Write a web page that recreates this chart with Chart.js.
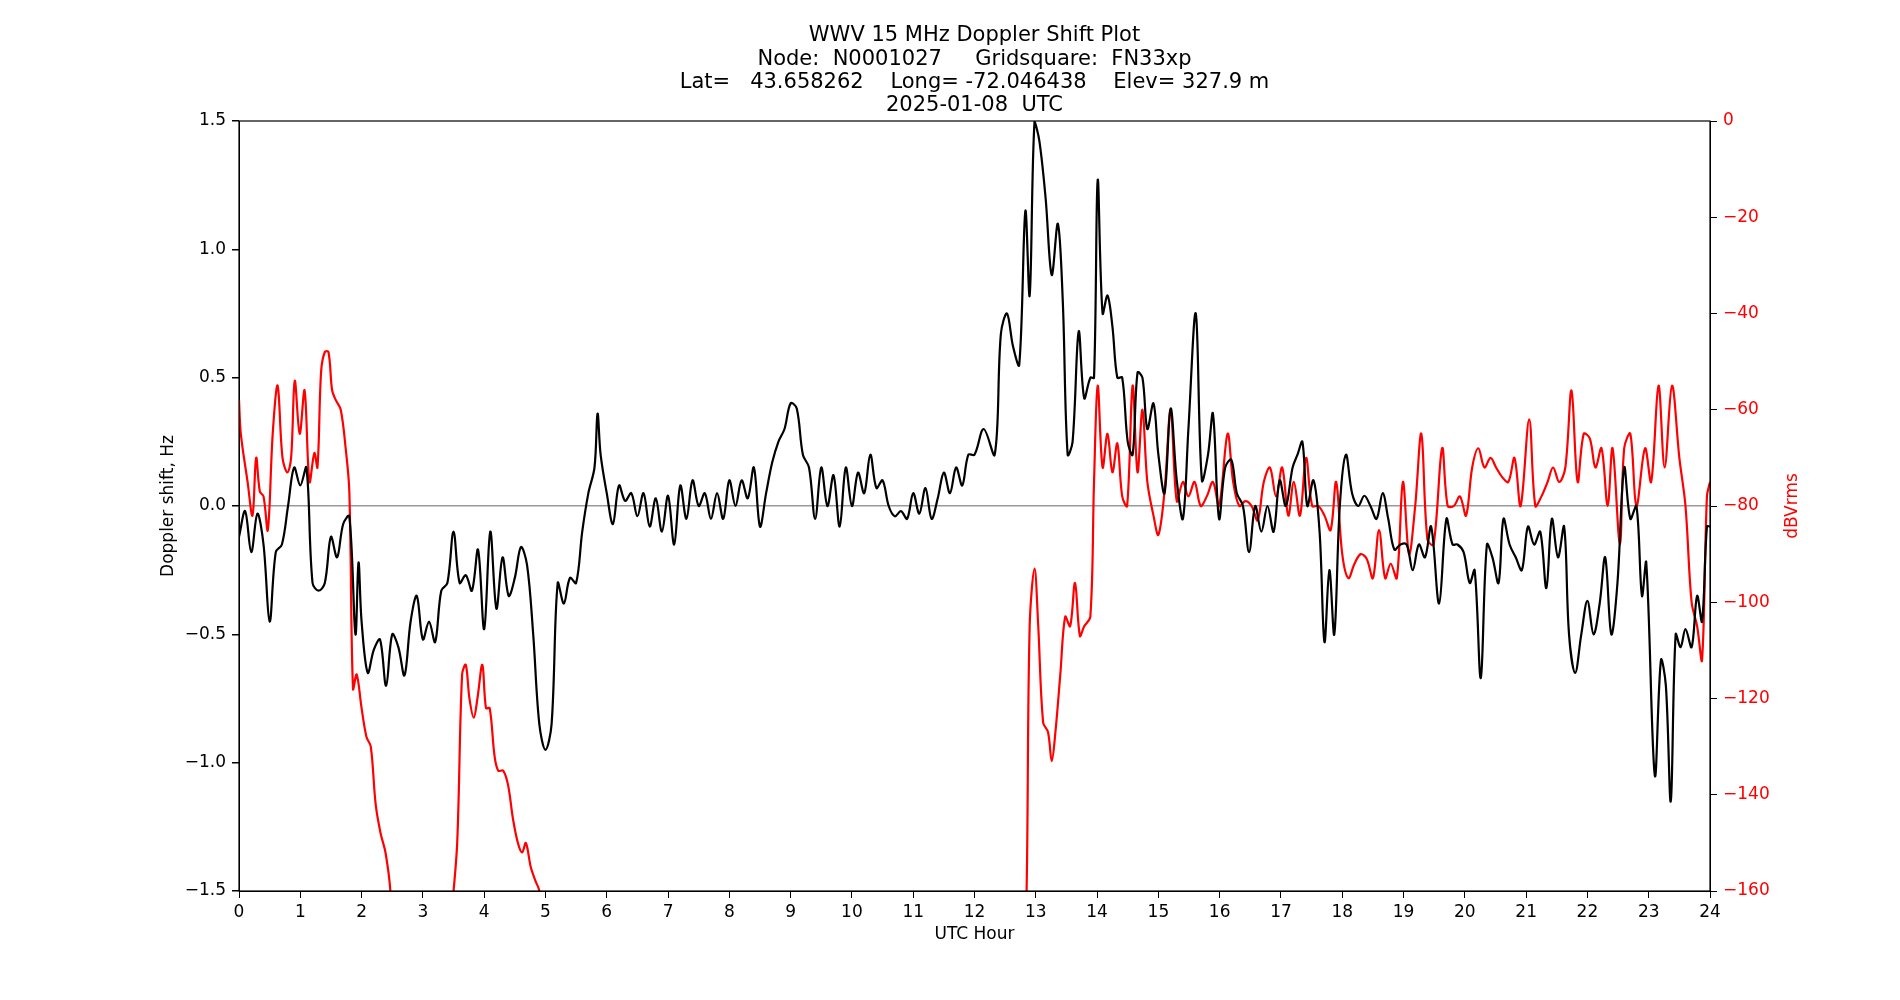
<!DOCTYPE html>
<html><head><meta charset="utf-8">
<script src="https://cdn.jsdelivr.net/npm/chart.js@4"></script>
<style>body{margin:0;background:#fff}canvas{display:block}</style>
</head><body>
<canvas id="c" width="1900" height="1000"></canvas>
<script>
const titleLines = ["WWV 15 MHz Doppler Shift Plot","Node:  N0001027     Gridsquare:  FN33xp","Lat=   43.658262    Long= -72.046438    Elev= 327.9 m","2025-01-08  UTC"];
const dopplerHours = [0,0.1,0.2,0.3,0.4,0.5,0.6,0.7,0.8,0.9,1.0,1.1,1.2,1.3,1.4,1.5,1.6,1.7,1.8,1.9,1.95,2.0,2.1,2.2,2.3,2.4,2.5,2.6,2.7,2.8,2.9,3.0,3.1,3.2,3.3,3.4,3.5,3.6,3.7,3.8,3.9,4.0,4.1,4.2,4.3,4.4,4.5,4.6,4.7,4.8,4.9,5.0,5.1,5.2,5.3,5.4,5.5,5.6,5.7,5.8,5.85,5.9,6.0,6.1,6.2,6.3,6.4,6.5,6.6,6.7,6.8,6.9,7.0,7.1,7.2,7.3,7.4,7.5,7.6,7.7,7.8,7.9,8.0,8.1,8.2,8.3,8.4,8.5,8.6,8.7,8.8,8.9,9.0,9.1,9.2,9.3,9.4,9.5,9.6,9.7,9.8,9.9,10.0,10.1,10.2,10.3,10.4,10.5,10.6,10.7,10.8,10.9,11.0,11.1,11.2,11.3,11.4,11.5,11.6,11.7,11.8,11.9,
12.0,12.15,12.33,12.43,12.53,12.63,12.73,12.83,12.9,12.98,13.06,13.16,13.26,13.36,13.44,13.52,13.6,13.7,13.79,13.89,13.95,14.01,14.09,14.17,14.25,14.33,14.41,14.5,14.58,14.66,14.74,14.82,14.92,15.0,15.1,15.2,15.3,15.4,15.49,15.61,15.71,15.81,15.89,15.99,16.09,16.19,16.28,16.38,16.48,16.58,16.68,16.78,16.88,16.98,17.08,17.19,17.27,17.35,17.43,17.53,17.63,17.71,17.79,17.87,17.96,18.06,18.16,18.26,18.36,18.46,18.56,18.66,18.75,18.85,18.95,19.05,19.15,19.25,19.35,19.45,19.58,19.7,19.8,19.88,19.98,20.08,20.16,20.26,20.36,20.45,20.55,20.63,20.73,20.83,20.93,21.03,21.13,21.23,21.33,21.42,21.52,21.62,21.7,21.8,21.9,22.0,22.1,22.2,22.29,22.39,22.49,22.6,22.7,22.8,22.89,22.96,23.1,23.2,23.28,23.36,23.44,23.52,23.6,23.7,23.79,23.87,23.95,24.0];
const dopplerHz = [-0.12,-0.02,-0.18,-0.03,-0.15,-0.45,-0.18,-0.15,0.0,0.15,0.08,0.15,-0.3,-0.33,-0.3,-0.12,-0.2,-0.07,-0.04,-0.5,-0.22,-0.45,-0.65,-0.56,-0.52,-0.7,-0.5,-0.55,-0.66,-0.45,-0.35,-0.52,-0.45,-0.53,-0.33,-0.3,-0.1,-0.3,-0.27,-0.33,-0.17,-0.48,-0.1,-0.4,-0.2,-0.35,-0.28,-0.16,-0.23,-0.5,-0.85,-0.95,-0.85,-0.3,-0.38,-0.28,-0.3,-0.1,0.05,0.15,0.36,0.2,0.05,-0.07,0.08,0.02,0.05,-0.04,0.05,-0.08,0.03,-0.1,0.04,-0.15,0.08,-0.05,0.1,0.0,0.05,-0.05,0.05,-0.05,0.1,0.0,0.1,0.03,0.15,-0.08,0.05,0.17,0.25,0.3,0.4,0.38,0.2,0.15,-0.05,0.15,0.0,0.12,-0.08,0.15,0.0,0.13,0.05,0.2,0.07,0.1,0.0,-0.04,-0.02,-0.05,0.05,-0.03,0.07,-0.05,0.03,0.13,0.05,0.15,0.08,0.2,
0.2,0.3,0.2,0.67,0.75,0.62,0.55,1.15,0.82,1.5,1.42,1.2,0.9,1.1,0.8,0.2,0.25,0.68,0.42,0.5,0.5,1.27,0.75,0.82,0.7,0.5,0.5,0.25,0.2,0.52,0.5,0.3,0.4,0.2,0.05,0.38,0.1,-0.05,0.3,0.75,0.1,0.2,0.36,-0.05,0.15,0.18,0.05,0.0,-0.18,0.0,-0.1,0.0,-0.1,0.1,0.0,0.15,0.2,0.25,0.0,0.1,-0.1,-0.53,-0.25,-0.5,0.0,0.2,0.05,0.0,0.04,0.0,-0.05,0.05,-0.05,-0.17,-0.15,-0.15,-0.25,-0.15,-0.2,-0.08,-0.38,-0.05,-0.15,-0.15,-0.18,-0.3,-0.25,-0.67,-0.15,-0.2,-0.3,-0.05,-0.15,-0.2,-0.25,-0.08,-0.15,-0.1,-0.32,-0.05,-0.2,-0.08,-0.5,-0.65,-0.5,-0.37,-0.5,-0.38,-0.2,-0.5,-0.3,0.15,-0.05,0.0,-0.35,-0.22,-1.05,-0.6,-0.7,-1.15,-0.5,-0.55,-0.48,-0.55,-0.35,-0.45,-0.08,-0.08];
const powerHours = [0,0.03,0.14,0.22,0.28,0.34,0.4,0.47,0.55,0.63,0.71,0.79,0.85,0.91,0.99,1.07,1.15,1.23,1.28,1.34,1.4,1.46,1.52,1.58,1.66,1.74,1.8,1.86,1.92,2.0,2.08,2.15,2.23,2.31,2.39,2.47,2.52,3.4,3.48,3.56,3.64,3.7,3.76,3.83,3.89,3.97,4.03,4.09,4.17,4.23,4.31,4.39,4.47,4.55,4.62,4.68,4.76,4.84,4.9,5.0,12.8,12.85,12.9,12.98,13.04,13.12,13.2,13.26,13.32,13.4,13.48,13.56,13.64,13.72,13.79,13.89,13.95,14.01,14.09,14.17,14.25,14.33,14.41,14.49,14.58,14.66,14.74,14.82,14.92,15.0,15.1,15.2,15.3,15.4,15.49,15.59,15.69,15.79,15.89,15.99,16.13,16.22,16.32,16.42,16.52,16.62,16.72,16.82,16.92,17.02,17.12,17.21,17.31,17.41,17.51,17.61,17.71,17.81,17.9,18.0,18.1,18.2,18.3,18.4,18.5,18.6,18.7,18.79,18.89,18.99,19.09,19.19,19.29,19.39,19.49,19.63,19.72,19.82,19.92,20.02,20.12,20.22,20.32,20.42,20.51,20.61,20.71,20.81,20.91,21.05,21.15,21.25,21.35,21.44,21.54,21.64,21.74,21.84,21.94,22.04,22.13,22.23,22.33,22.41,22.53,22.6,22.7,22.8,22.94,23.04,23.16,23.26,23.38,23.5,23.6,23.7,23.79,23.87,23.95,24.0];
const powerDb = [-58,-65,-75,-82,-70,-77,-78,-85,-65,-55,-70,-73,-70,-54,-65,-56,-75,-69,-72,-52,-48,-48,-56,-58,-60,-68,-77,-118,-115,-122,-128,-130,-142,-148,-152,-160,-175,-175,-163,-150,-115,-113,-120,-124,-120,-113,-122,-122,-132,-135,-135,-138,-145,-150,-152,-150,-155,-158,-160,-175,-175,-160,-105,-93,-105,-125,-127,-133,-127,-115,-103,-105,-96,-107,-105,-103,-75,-55,-72,-65,-73,-67,-78,-80,-55,-73,-60,-75,-82,-86,-77,-60,-79,-75,-78,-75,-80,-78,-75,-80,-65,-75,-80,-79,-80,-83,-75,-72,-78,-72,-82,-75,-82,-70,-80,-80,-82,-85,-75,-90,-95,-92,-90,-91,-95,-85,-95,-92,-95,-75,-90,-80,-65,-87,-88,-68,-80,-80,-78,-82,-72,-68,-72,-70,-72,-74,-75,-70,-80,-62,-80,-78,-75,-72,-75,-72,-56,-75,-65,-66,-72,-68,-80,-68,-88,-68,-65,-80,-68,-75,-55,-72,-55,-70,-80,-100,-105,-112,-78,-75];
const leftTicks = [-1.5,-1.0,-0.5,0.0,0.5,1.0,1.5];

const F = "'DejaVu Sans', sans-serif";
const deco = {
  id:'deco',
  afterDraw(ch){
    const c = ch.ctx, a = ch.chartArea;
    c.save();
    c.fillStyle='#000'; c.font='21px '+F; c.textAlign='center'; c.textBaseline='middle';
    titleLines.forEach((t,i)=>c.fillText(t,(a.left+a.right)/2,36+i*23.3));
    c.font='17px '+F;
    c.fillText('UTC Hour',(a.left+a.right)/2,935);
    c.save(); c.translate(169,(a.top+a.bottom)/2); c.rotate(-Math.PI/2); c.fillText('Doppler shift, Hz',0,0); c.restore();
    c.save(); c.fillStyle='red'; c.translate(1793,(a.top+a.bottom)/2); c.rotate(-Math.PI/2); c.fillText('dBVrms',0,0); c.restore();
    c.strokeStyle='#000'; c.lineWidth=1.2; c.strokeRect(a.left,a.top,a.right-a.left,a.bottom-a.top);
    c.restore();
  }
};
new Chart(document.getElementById('c'),{
  type:'line',
  data:{datasets:[
    {data:dopplerHours.map((h,i)=>({x:h,y:dopplerHz[i]})),borderColor:'#000',borderWidth:2.2,pointRadius:0,tension:0.35,yAxisID:'y',order:1},
    {data:powerHours.map((h,i)=>({x:h,y:powerDb[i]})),borderColor:'red',borderWidth:2.2,pointRadius:0,tension:0.35,yAxisID:'y1',order:2}
  ]},
  plugins:[deco],
  options:{responsive:false,animation:false,events:[],
    layout:{padding:{top:121,left:0,right:0,bottom:0}},
    plugins:{legend:{display:false},tooltip:{enabled:false}},
    scales:{
      x:{type:'linear',min:0,max:24,ticks:{stepSize:1,color:'#000',font:{family:F,size:17},padding:4,maxRotation:0,autoSkip:false},
         grid:{drawOnChartArea:false,tickLength:7,tickColor:'#000'},border:{color:'#000'},
         afterFit(s){s.height=109;}},
      y:{position:'left',min:-1.5,max:1.5,afterBuildTicks(s){s.ticks=leftTicks.map(v=>({value:v}));},
         ticks:{color:'#000',font:{family:F,size:17},padding:6,callback:v=>v.toFixed(1).replace('-','\u2212')},
         grid:{color:c=>c.tick&&c.tick.value===0?'#999':'rgba(0,0,0,0)',lineWidth:1.5,tickLength:7,tickColor:'#000'},border:{color:'#000'},
         afterFit(s){s.width=239;}},
      y1:{position:'right',min:-160,max:0,ticks:{stepSize:20,color:'red',font:{family:F,size:17},padding:6,callback:v=>String(v).replace('-','\u2212')},
         grid:{drawOnChartArea:false,tickLength:7,tickColor:'#000'},border:{color:'#000'},
         afterFit(s){s.width=190;}}
    }
  }
});
</script>
</body></html>
